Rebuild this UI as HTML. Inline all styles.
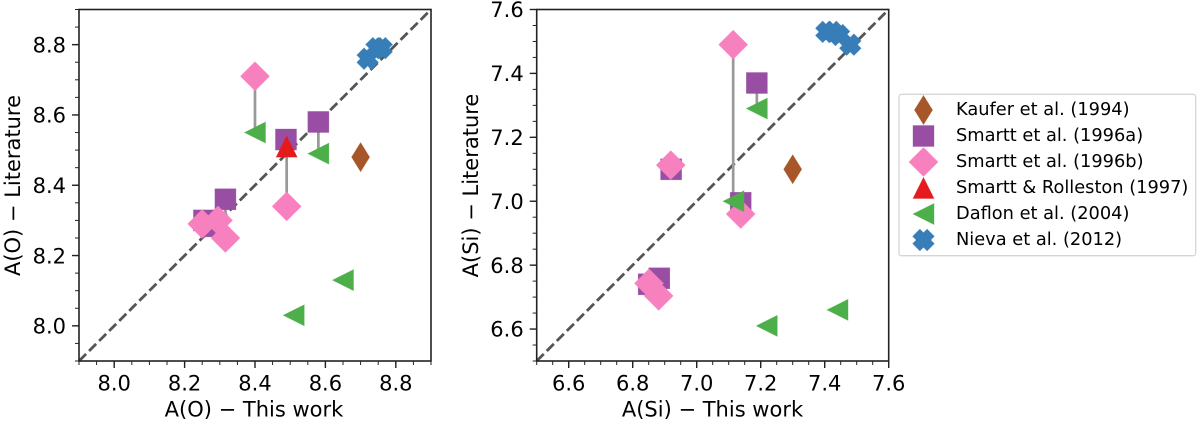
<!DOCTYPE html>
<html>
<head>
<meta charset="utf-8">
<style>
html,body{margin:0;padding:0;background:#fff;width:1200px;height:425px;overflow:hidden}
svg{display:block;font-family:"DejaVu Sans","Liberation Sans",sans-serif;filter:blur(0.35px)}
</style>
</head>
<body>
<svg id="chart" width="1200" height="425" viewBox="0 0 1200 425" xmlns="http://www.w3.org/2000/svg"></svg>
<script>
// Left panel data: A(O)
const oTicks = ["8.0", "8.2", "8.4", "8.6", "8.8"];
const oRange = [7.9, 8.9];
const oKaufer = [[8.70, 8.48]];
const oSmarttA = [[8.255, 8.30], [8.275, 8.283], [8.316, 8.36], [8.488, 8.53], [8.58, 8.58]];
const oSmarttB = [[8.25, 8.29], [8.295, 8.30], [8.316, 8.25], [8.40, 8.71], [8.49, 8.34]];
const oRolleston = [[8.49, 8.51]];
const oDaflon = [[8.40, 8.55], [8.58, 8.49], [8.65, 8.13], [8.51, 8.03]];
const oNieva = [[8.72, 8.76], [8.745, 8.79], [8.76, 8.79]];
const oLinks = [[8.40, 8.71, 8.55], [8.49, 8.53, 8.34], [8.58, 8.58, 8.49], [8.316, 8.36, 8.25]];

// Right panel data: A(Si)
const siTicks = ["6.6", "6.8", "7.0", "7.2", "7.4", "7.6"];
const siRange = [6.5, 7.6];
const siKaufer = [[7.30, 7.10]];
const siSmarttA = [[6.85, 6.74], [6.883, 6.759], [6.92, 7.10], [7.1375, 6.995], [7.188, 7.37]];
const siSmarttB = [[6.851, 6.743], [6.881, 6.704], [6.919, 7.113], [7.1375, 6.96], [7.114, 7.49]];
const siRolleston = [];
const siDaflon = [[7.115, 7.00], [7.188, 7.29], [7.219, 6.61], [7.44, 6.66]];
const siNieva = [[7.405, 7.53], [7.425, 7.53], [7.445, 7.52], [7.48, 7.49]];
const siLinks = [[7.114, 7.49, 7.00], [7.188, 7.37, 7.29]];

// Legend data
const legendLabels = ["Kaufer et al. (1994)", "Smartt et al. (1996a)", "Smartt et al. (1996b)", "Smartt & Rolleston (1997)", "Daflon et al. (2004)", "Nieva et al. (2012)"];
const seriesKeys = ["kaufer", "smartt-1996a", "smartt-1996b", "smartt-rolleston", "daflon", "nieva"];

const NS = "http://www.w3.org/2000/svg";
const root = document.getElementById("chart");
const colors = {"kaufer": "#a65628", "smartt-1996a": "#984ea3", "smartt-1996b": "#f781bf", "smartt-rolleston": "#e41a1c", "daflon": "#4daf4a", "nieva": "#377eb8"};
const markerShapes = {
  "kaufer": (x, y) => `${x},${y - 14.5} ${x + 9},${y} ${x},${y + 14.5} ${x - 9},${y}`,
  "smartt-1996a": (x, y) => `${x - 10.5},${y - 10.5} ${x + 10.5},${y - 10.5} ${x + 10.5},${y + 10.5} ${x - 10.5},${y + 10.5}`,
  "smartt-1996b": (x, y) => `${x},${y - 14.5} ${x + 14.5},${y} ${x},${y + 14.5} ${x - 14.5},${y}`,
  "smartt-rolleston": (x, y) => `${x},${y - 10.5} ${x + 10.5},${y + 10.5} ${x - 10.5},${y + 10.5}`,
  "daflon": (x, y) => `${x - 10.5},${y} ${x + 10.5},${y - 10.5} ${x + 10.5},${y + 10.5}`,
  "nieva": (x, y) => {
    const a = 10.2, b = 5.1;
    return [[-a, -b], [-b, -b], [-b, -a], [b, -a], [b, -b], [a, -b], [a, b], [b, b], [b, a], [-b, a], [-b, b], [-a, b]]
      .map(p => {
        const r = Math.SQRT1_2;
        const u = (p[0] - p[1]) * r, v = (p[0] + p[1]) * r;
        return `${x + u},${y + v}`;
      }).join(" ");
  }
};

function make(tag, attrs, parent) {
  const el = document.createElementNS(NS, tag);
  for (const k in attrs) el.setAttribute(k, attrs[k]);
  (parent || root).appendChild(el);
  return el;
}

function drawPanel(cfg) {
  const g = make("g", {});
  
  
  const L = cfg.left, R = cfg.left + 352, T = 9.5, B = 361;
  const sx = v => L + (v - cfg.range[0]) / (cfg.range[1] - cfg.range[0]) * (R - L);
  const sy = v => B - (v - cfg.range[0]) / (cfg.range[1] - cfg.range[0]) * (B - T);

  const diag = make("line", {x1: sx(cfg.range[0]), y1: sy(cfg.range[0]), x2: sx(cfg.range[1]), y2: sy(cfg.range[1]), stroke: "#555", "stroke-width": 2.8, "stroke-dasharray": "10 4.2"}, g);
  
  

  cfg.links.forEach(d => {
    const link = make("line", {x1: sx(d[0]), y1: sy(d[1]), x2: sx(d[0]), y2: sy(d[2]), stroke: "#999", "stroke-width": 2.7}, g);
    
    
  });

  seriesKeys.forEach((key, i) => {
    cfg.series[i].forEach(d => {
      const mark = make("polygon", {points: markerShapes[key](sx(d[0]), sy(d[1])), fill: colors[key], stroke: colors[key], "stroke-width": 0.6, "stroke-opacity": 0.6}, g);
      
      
    });
  });

  const frame = make("rect", {x: L, y: T, width: R - L, height: B - T, fill: "none", stroke: "#222", "stroke-width": 1.6}, g);
  
  

  // minor ticks every 0.05
  const nMinor = Math.round((cfg.range[1] - cfg.range[0]) / 0.05);
  for (let i = 0; i <= nMinor; i++) {
    const v = cfg.range[0] + i * 0.05;
    const xm = make("line", {x1: sx(v), x2: sx(v), y1: B, y2: B + 4, stroke: "#222", "stroke-width": 1}, g);
    
    
    const ym = make("line", {x1: L, x2: L - 4, y1: sy(v), y2: sy(v), stroke: "#222", "stroke-width": 1}, g);
    
    
  }

  cfg.ticks.forEach(label => {
    const v = parseFloat(label);
    const xt = make("line", {x1: sx(v), x2: sx(v), y1: B, y2: B + 7, stroke: "#222", "stroke-width": 1.4}, g);
    
    
    const yt = make("line", {x1: L, x2: L - 7, y1: sy(v), y2: sy(v), stroke: "#222", "stroke-width": 1.4}, g);
    
    
    const xl = make("text", {x: sx(v), y: 390.5, "text-anchor": "middle", "font-size": 21, fill: "#000"}, g);
    xl.textContent = label;
    
    
    const yl = make("text", {x: L - 13, y: sy(v) + 7.7, "text-anchor": "end", "font-size": 21, fill: "#000"}, g);
    yl.textContent = label;
    
    
  });

  const xTitle = make("text", {x: cfg.xTitleX, y: 416.7, "text-anchor": "middle", "font-size": 21, fill: "#000"}, g);
  xTitle.textContent = cfg.xTitle;
  
  
  const yTitle = make("text", {transform: `translate(${cfg.yTitleX},185.5) rotate(-90)`, "text-anchor": "middle", "font-size": 21, fill: "#000"}, g);
  yTitle.textContent = cfg.yTitle;
  
  
}

drawPanel({name: "oxygen-panel", left: 79, range: oRange, ticks: oTicks, links: oLinks,
  series: [oKaufer, oSmarttA, oSmarttB, oRolleston, oDaflon, oNieva],
  xTitle: "A(O) \u2212 This work", yTitle: "A(O) \u2212 Literature", xTitleX: 254, yTitleX: 20});
drawPanel({name: "silicon-panel", left: 536.7, range: siRange, ticks: siTicks, links: siLinks,
  series: [siKaufer, siSmarttA, siSmarttB, siRolleston, siDaflon, siNieva],
  xTitle: "A(Si) \u2212 This work", yTitle: "A(Si) \u2212 Literature", xTitleX: 712.5, yTitleX: 478});

// Legend
const legend = make("g", {});


const legendBox = make("rect", {x: 899, y: 94.3, width: 296.7, height: 161.4, rx: 2.5, fill: "#fff", stroke: "#d5d5d5", "stroke-width": 1.3}, legend);


legendLabels.forEach((label, i) => {
  const y = 110 + i * 26;
  const key = seriesKeys[i];
  const entry = make("g", {}, legend);
  
  
  const sw = make("polygon", {points: markerShapes[key](923.5, y), fill: colors[key], stroke: colors[key], "stroke-width": 0.6, "stroke-opacity": 0.6}, entry);
  
  
  const t = make("text", {x: 956, y: y + 5, "font-size": 17.8, fill: "#000"}, entry);
  t.textContent = label;
  
  
});
</script>
</body>
</html>
